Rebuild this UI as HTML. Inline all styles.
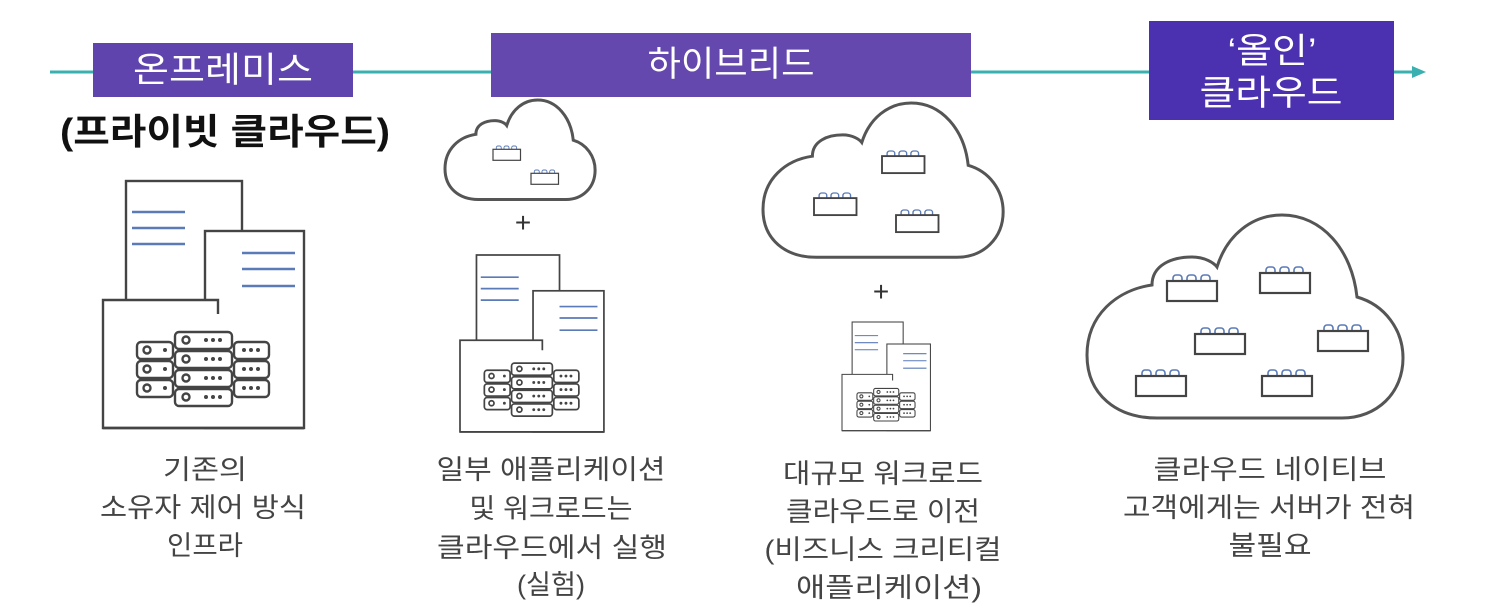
<!DOCTYPE html>
<html><head><meta charset="utf-8"><style>
html,body{margin:0;padding:0;background:#fff;}
svg{display:block;}
text{font-family:"Liberation Sans","Noto Sans CJK KR",sans-serif;}
.lbl{font-size:27px;fill:#444;text-anchor:middle;}
.hd{font-size:35px;fill:#fff;text-anchor:middle;}
</style></head><body>
<svg width="1500" height="609" viewBox="0 0 1500 609" xmlns="http://www.w3.org/2000/svg">
<defs>
  <path id="cloud" d="M70 203 C30 203 0 180 0 140 C0 100 30 75 65 70 C65 50 85 42 105 42 C118 42 127 48 130 52 C140 20 165 0 195 0 C235 0 265 35 270 82 C298 90 316 115 316 143 C316 178 290 203 255 203 Z" fill="#fff" stroke="#555" stroke-width="3" vector-effect="non-scaling-stroke"/>
  <g id="blk">
    <rect x="6" y="0" width="9" height="8" rx="3" fill="none" stroke="#5a7ab8" stroke-width="1.6"/>
    <rect x="20" y="0" width="9" height="8" rx="3" fill="none" stroke="#5a7ab8" stroke-width="1.6"/>
    <rect x="34" y="0" width="9" height="8" rx="3" fill="none" stroke="#5a7ab8" stroke-width="1.6"/>
    <rect x="0" y="6" width="50" height="20" fill="#fff" stroke="#444" stroke-width="2.2"/>
  </g>
  <g id="bld" fill="none" stroke="#444" stroke-width="2.4">
    <rect x="126" y="181" width="116" height="130" fill="#fff"/>
    <line x1="132" y1="212" x2="185" y2="212" stroke="#5a7ab8"/>
    <line x1="132" y1="228" x2="185" y2="228" stroke="#5a7ab8"/>
    <line x1="132" y1="244" x2="185" y2="244" stroke="#5a7ab8"/>
    <rect x="205" y="231" width="99" height="197" fill="#fff"/>
    <line x1="242" y1="253" x2="295" y2="253" stroke="#5a7ab8"/>
    <line x1="242" y1="269" x2="295" y2="269" stroke="#5a7ab8"/>
    <line x1="242" y1="286" x2="295" y2="286" stroke="#5a7ab8"/>
    <path d="M218 314 V300 H103 V428 H304" fill="#fff"/>
    <line x1="103" y1="428" x2="304" y2="428"/>
    <g>
      <rect x="137" y="342" width="36" height="17" rx="4" fill="#fff"/>
      <rect x="137" y="361" width="36" height="17" rx="4" fill="#fff"/>
      <rect x="137" y="380" width="36" height="17" rx="4" fill="#fff"/>
      <rect x="234" y="342" width="35" height="17" rx="4" fill="#fff"/>
      <rect x="234" y="361" width="35" height="17" rx="4" fill="#fff"/>
      <rect x="234" y="380" width="35" height="17" rx="4" fill="#fff"/>
      <rect x="175" y="332" width="57" height="17" rx="4" fill="#fff"/>
      <rect x="175" y="351" width="57" height="17" rx="4" fill="#fff"/>
      <rect x="175" y="370" width="57" height="17" rx="4" fill="#fff"/>
      <rect x="175" y="389" width="57" height="17" rx="4" fill="#fff"/>
      <circle cx="147" cy="350" r="3.5"/><circle cx="147" cy="369" r="3.5"/><circle cx="147" cy="388" r="3.5"/>
      <circle cx="186" cy="340" r="3.5"/><circle cx="186" cy="359" r="3.5"/><circle cx="186" cy="378" r="3.5"/><circle cx="186" cy="397" r="3.5"/>
    </g>
    <g fill="#444" stroke="none">
      <circle cx="165" cy="350" r="2"/><circle cx="165" cy="369" r="2"/><circle cx="165" cy="388" r="2"/>
      <circle cx="206" cy="340" r="2"/><circle cx="213" cy="340" r="2"/><circle cx="220" cy="340" r="2"/>
      <circle cx="206" cy="359" r="2"/><circle cx="213" cy="359" r="2"/><circle cx="220" cy="359" r="2"/>
      <circle cx="206" cy="378" r="2"/><circle cx="213" cy="378" r="2"/><circle cx="220" cy="378" r="2"/>
      <circle cx="206" cy="397" r="2"/><circle cx="213" cy="397" r="2"/><circle cx="220" cy="397" r="2"/>
      <circle cx="244" cy="350" r="2"/><circle cx="251" cy="350" r="2"/><circle cx="258" cy="350" r="2"/>
      <circle cx="244" cy="369" r="2"/><circle cx="251" cy="369" r="2"/><circle cx="258" cy="369" r="2"/>
      <circle cx="244" cy="388" r="2"/><circle cx="251" cy="388" r="2"/><circle cx="258" cy="388" r="2"/>
    </g>
  </g>
</defs>

<line x1="50" y1="72" x2="1415" y2="72" stroke="#3ab0b0" stroke-width="3"/>
<polygon points="1412,66 1426,72 1412,78" fill="#3ab0b0"/>

<rect x="93" y="43" width="260" height="54" fill="#5f44ad"/>
<text class="hd" x="223" y="82" textLength="180" lengthAdjust="spacingAndGlyphs">온프레미스</text>
<rect x="491" y="33" width="480" height="64" fill="#6448ae"/>
<text class="hd" x="731" y="76" textLength="167" lengthAdjust="spacingAndGlyphs">하이브리드</text>
<rect x="1149" y="21" width="245" height="99" fill="#4b30b0"/>
<text class="hd" x="1272" y="63" textLength="89" lengthAdjust="spacingAndGlyphs">‘올인’</text>
<text class="hd" x="1271" y="105" textLength="143" lengthAdjust="spacingAndGlyphs">클라우드</text>

<text x="225" y="144" textLength="330" lengthAdjust="spacingAndGlyphs" style="font-size:36px;font-weight:bold;fill:#111;text-anchor:middle">(프라이빗 클라우드)</text>

<use href="#bld"/>
<g transform="translate(460,255) scale(0.716) translate(-103,-181)"><use href="#bld"/></g>
<g transform="translate(842,322) scale(0.44) translate(-103,-181)"><use href="#bld"/></g>

<g transform="translate(445,100) scale(0.475,0.49)"><use href="#cloud"/></g>
<use href="#blk" transform="translate(493,146) scale(0.55)"/>
<use href="#blk" transform="translate(531,170) scale(0.55)"/>

<g transform="translate(763,103) scale(0.76,0.76)"><use href="#cloud"/></g>
<use href="#blk" transform="translate(882,151) scale(0.85)"/>
<use href="#blk" transform="translate(814,193) scale(0.85)"/>
<use href="#blk" transform="translate(896,210) scale(0.85)"/>

<g transform="translate(1087,215)"><use href="#cloud"/></g>
<use href="#blk" transform="translate(1167,275)"/>
<use href="#blk" transform="translate(1260,267)"/>
<use href="#blk" transform="translate(1195,328)"/>
<use href="#blk" transform="translate(1318,325)"/>
<use href="#blk" transform="translate(1136,370)"/>
<use href="#blk" transform="translate(1262,370)"/>

<text x="523" y="232" style="font-size:28px;fill:#333;text-anchor:middle">+</text>
<text x="881" y="301" style="font-size:28px;fill:#333;text-anchor:middle">+</text>

<text class="lbl" x="205" y="479" textLength="84" lengthAdjust="spacingAndGlyphs">기존의</text>
<text class="lbl" x="203" y="517" textLength="206" lengthAdjust="spacingAndGlyphs">소유자 제어 방식</text>
<text class="lbl" x="205" y="555" textLength="76" lengthAdjust="spacingAndGlyphs">인프라</text>

<text class="lbl" x="551" y="479" textLength="229" lengthAdjust="spacingAndGlyphs">일부 애플리케이션</text>
<text class="lbl" x="551" y="518" textLength="163" lengthAdjust="spacingAndGlyphs">및 워크로드는</text>
<text class="lbl" x="552" y="557" textLength="230" lengthAdjust="spacingAndGlyphs">클라우드에서 실행</text>
<text class="lbl" x="551" y="594" textLength="68" lengthAdjust="spacingAndGlyphs">(실험)</text>

<text class="lbl" x="883" y="483" textLength="200" lengthAdjust="spacingAndGlyphs">대규모 워크로드</text>
<text class="lbl" x="883" y="521" textLength="194" lengthAdjust="spacingAndGlyphs">클라우드로 이전</text>
<text class="lbl" x="883" y="559" textLength="237" lengthAdjust="spacingAndGlyphs">(비즈니스 크리티컬</text>
<text class="lbl" x="889" y="597" textLength="186" lengthAdjust="spacingAndGlyphs">애플리케이션)</text>

<text class="lbl" x="1270" y="479" textLength="233" lengthAdjust="spacingAndGlyphs">클라우드 네이티브</text>
<text class="lbl" x="1269" y="517" textLength="292" lengthAdjust="spacingAndGlyphs">고객에게는 서버가 전혀</text>
<text class="lbl" x="1270" y="555" textLength="83" lengthAdjust="spacingAndGlyphs">불필요</text>
</svg>
</body></html>
